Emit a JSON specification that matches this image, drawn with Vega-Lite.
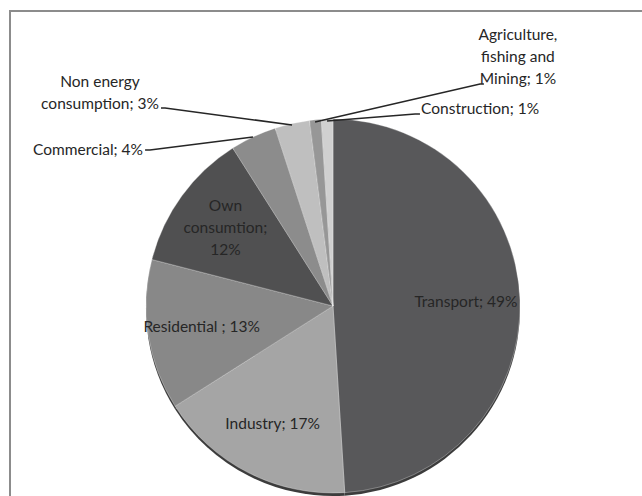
{
  "$schema": "https://vega.github.io/schema/vega-lite/v6.json",
  "autosize": {"type": "none"},
  "width": 637,
  "height": 490,
  "padding": {"left": 10, "top": 11, "right": -5, "bottom": -5},
  "background": "white",
  "config": {"view": {"stroke": "#8c8c8c", "strokeWidth": 2}, "font": "Lato"},
  "datasets": {
    "shares": [
      {"rank": 1, "category": "Transport", "share": 49, "label": "Transport; 49%", "blockLabel": ""},
      {"rank": 2, "category": "Industry", "share": 17, "label": "Industry; 17%", "blockLabel": ""},
      {"rank": 3, "category": "Residential", "share": 13, "label": "Residential ; 13%", "blockLabel": ""},
      {"rank": 4, "category": "Own consumtion", "share": 12, "label": "", "blockLabel": "Own\nconsumtion;\n12%"},
      {"rank": 5, "category": "Commercial", "share": 4, "label": "", "blockLabel": ""},
      {"rank": 6, "category": "Non energy consumption", "share": 3, "label": "", "blockLabel": ""},
      {"rank": 7, "category": "Agriculture, fishing and Mining", "share": 1, "label": "", "blockLabel": ""},
      {"rank": 8, "category": "Construction", "share": 1, "label": "", "blockLabel": ""}
    ],
    "callouts": [
      {"name": "Commercial", "text": "Commercial; 4%", "x": -1.016, "y": 0.834},
      {"name": "Non energy", "text": "Non energy\nconsumption; 3%", "x": -1.246, "y": 1.198},
      {"name": "Agriculture", "text": "Agriculture,\nfishing and\nMining; 1%", "x": 0.989, "y": 1.449},
      {"name": "Construction", "text": "Construction; 1%", "x": 0.471, "y": 1.055}
    ],
    "leaders": [
      {"name": "Commercial", "step": 1, "x": -0.428, "y": 0.904},
      {"name": "Commercial", "step": 2, "x": -0.979, "y": 0.834},
      {"name": "Commercial", "step": 3, "x": -1.005, "y": 0.834},
      {"name": "Non energy", "step": 1, "x": -0.219, "y": 0.968},
      {"name": "Non energy", "step": 2, "x": -0.898, "y": 1.059},
      {"name": "Non energy", "step": 3, "x": -0.92, "y": 1.059},
      {"name": "Agriculture", "step": 1, "x": -0.096, "y": 0.984},
      {"name": "Agriculture", "step": 2, "x": 0.786, "y": 1.187},
      {"name": "Agriculture", "step": 3, "x": 0.807, "y": 1.187},
      {"name": "Construction", "step": 1, "x": -0.032, "y": 0.989},
      {"name": "Construction", "step": 2, "x": 0.439, "y": 1.027},
      {"name": "Construction", "step": 3, "x": 0.465, "y": 1.027}
    ]
  },
  "layer": [
    {
      "data": {"name": "shares"},
      "mark": {"type": "arc", "outerRadius": 187, "yOffset": 3, "color": "#3c3c3c"},
      "encoding": {
        "theta": {"field": "share", "type": "quantitative", "stack": true},
        "order": {"field": "rank", "type": "quantitative"},
        "x": {"datum": 0, "type": "quantitative", "scale": {"domain": [-1.7273, 1.6791], "nice": false, "zero": false}, "axis": null},
        "y": {"datum": 0, "type": "quantitative", "scale": {"domain": [-1.0428, 1.5775], "nice": false, "zero": false}, "axis": null}
      }
    },
    {
      "data": {"name": "shares"},
      "mark": {"type": "arc", "outerRadius": 187, "stroke": "#ffffff", "strokeWidth": 0.6, "strokeOpacity": 0.5},
      "encoding": {
        "theta": {"field": "share", "type": "quantitative", "stack": true},
        "order": {"field": "rank", "type": "quantitative"},
        "color": {
          "field": "category",
          "type": "nominal",
          "scale": {
            "domain": ["Transport", "Industry", "Residential", "Own consumtion", "Commercial", "Non energy consumption", "Agriculture, fishing and Mining", "Construction"],
            "range": ["#58585a", "#a5a5a5", "#888888", "#505051", "#8c8c8c", "#bfbfbf", "#979797", "#d0d0d0"]
          },
          "legend": null
        },
        "x": {"datum": 0, "type": "quantitative", "scale": {"domain": [-1.7273, 1.6791], "nice": false, "zero": false}, "axis": null},
        "y": {"datum": 0, "type": "quantitative", "scale": {"domain": [-1.0428, 1.5775], "nice": false, "zero": false}, "axis": null}
      }
    },
    {
      "data": {"name": "shares"},
      "mark": {"type": "text", "radius": 133, "fontSize": 15.5, "color": "#262626", "align": "center", "baseline": "middle"},
      "encoding": {
        "theta": {"field": "share", "type": "quantitative", "stack": true},
        "order": {"field": "rank", "type": "quantitative"},
        "text": {"field": "label", "type": "nominal"},
        "x": {"datum": 0, "type": "quantitative", "scale": {"domain": [-1.7273, 1.6791], "nice": false, "zero": false}, "axis": null},
        "y": {"datum": 0, "type": "quantitative", "scale": {"domain": [-1.0428, 1.5775], "nice": false, "zero": false}, "axis": null}
      }
    },
    {
      "data": {"name": "shares"},
      "mark": {"type": "text", "radius": 133, "dy": -22, "fontSize": 15.5, "color": "#262626", "lineBreak": "\n", "lineHeight": 22, "align": "center", "baseline": "middle"},
      "encoding": {
        "theta": {"field": "share", "type": "quantitative", "stack": true},
        "order": {"field": "rank", "type": "quantitative"},
        "text": {"field": "blockLabel", "type": "nominal"},
        "x": {"datum": 0, "type": "quantitative", "scale": {"domain": [-1.7273, 1.6791], "nice": false, "zero": false}, "axis": null},
        "y": {"datum": 0, "type": "quantitative", "scale": {"domain": [-1.0428, 1.5775], "nice": false, "zero": false}, "axis": null}
      }
    },
    {
      "data": {"name": "leaders"},
      "mark": {"type": "line", "color": "#262626", "strokeWidth": 1.5},
      "encoding": {
        "x": {"field": "x", "type": "quantitative", "scale": {"domain": [-1.7273, 1.6791], "nice": false, "zero": false}, "axis": null},
        "y": {"field": "y", "type": "quantitative", "scale": {"domain": [-1.0428, 1.5775], "nice": false, "zero": false}, "axis": null},
        "detail": {"field": "name", "type": "nominal"},
        "order": {"field": "step", "type": "quantitative"}
      }
    },
    {
      "data": {"name": "callouts"},
      "transform": [{"filter": {"field": "name", "oneOf": ["Non energy", "Agriculture"]}}],
      "mark": {"type": "text", "fontSize": 15.5, "color": "#262626", "lineBreak": "\n", "lineHeight": 22, "align": "center", "baseline": "middle"},
      "encoding": {
        "x": {"field": "x", "type": "quantitative", "scale": {"domain": [-1.7273, 1.6791], "nice": false, "zero": false}, "axis": null},
        "y": {"field": "y", "type": "quantitative", "scale": {"domain": [-1.0428, 1.5775], "nice": false, "zero": false}, "axis": null},
        "text": {"field": "text", "type": "nominal"}
      }
    },
    {
      "data": {"name": "callouts"},
      "transform": [{"filter": {"field": "name", "equal": "Commercial"}}],
      "mark": {"type": "text", "fontSize": 15.5, "color": "#262626", "align": "right", "baseline": "middle"},
      "encoding": {
        "x": {"field": "x", "type": "quantitative", "scale": {"domain": [-1.7273, 1.6791], "nice": false, "zero": false}, "axis": null},
        "y": {"field": "y", "type": "quantitative", "scale": {"domain": [-1.0428, 1.5775], "nice": false, "zero": false}, "axis": null},
        "text": {"field": "text", "type": "nominal"}
      }
    },
    {
      "data": {"name": "callouts"},
      "transform": [{"filter": {"field": "name", "equal": "Construction"}}],
      "mark": {"type": "text", "fontSize": 15.5, "color": "#262626", "align": "left", "baseline": "middle"},
      "encoding": {
        "x": {"field": "x", "type": "quantitative", "scale": {"domain": [-1.7273, 1.6791], "nice": false, "zero": false}, "axis": null},
        "y": {"field": "y", "type": "quantitative", "scale": {"domain": [-1.0428, 1.5775], "nice": false, "zero": false}, "axis": null},
        "text": {"field": "text", "type": "nominal"}
      }
    }
  ]
}
